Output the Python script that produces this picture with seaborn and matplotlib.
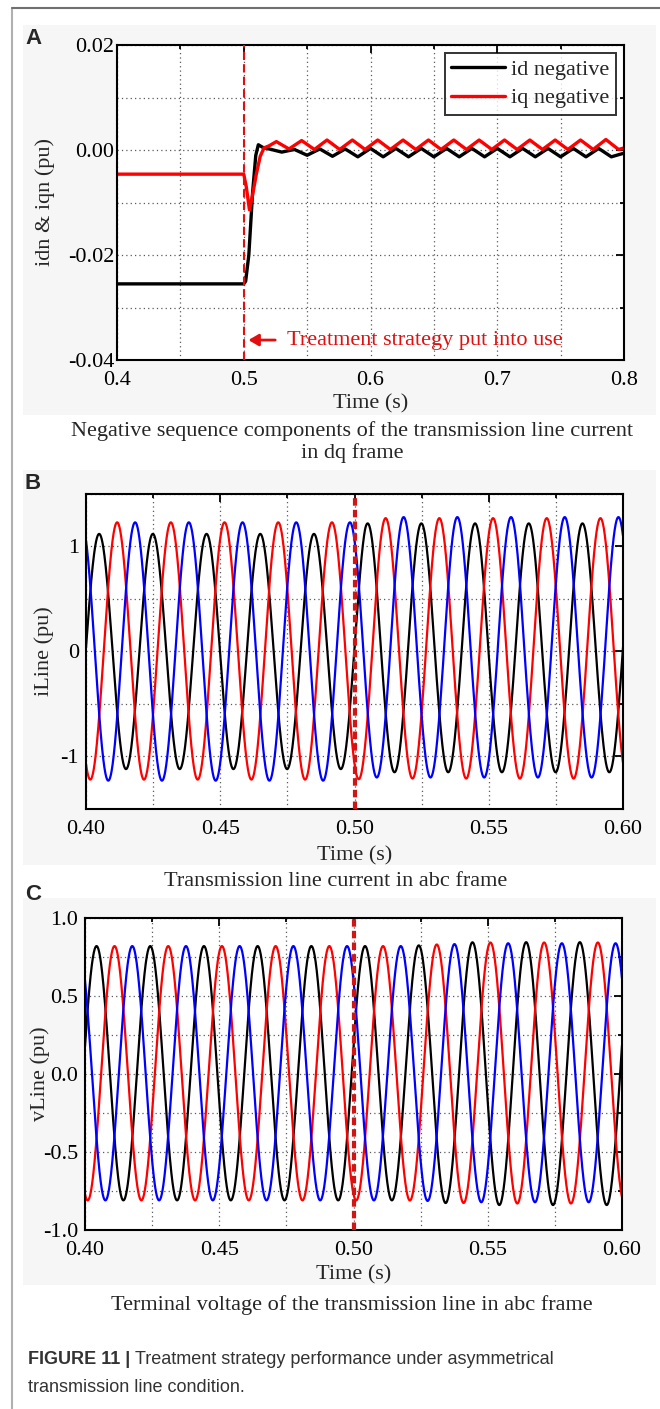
import numpy as np
import pandas as pd
import matplotlib
matplotlib.use("Agg")
import matplotlib.pyplot as plt
import seaborn as sns
from matplotlib.ticker import MultipleLocator, FormatStrFormatter
from matplotlib.patches import Rectangle
from matplotlib.lines import Line2D

# ---- panel A: negative sequence dq currents (key points)
id_t = [0.400, 0.5000, 0.5015, 0.5040, 0.5070, 0.5095, 0.5115, 0.5150, 0.5200, 0.5250,
        0.530, 0.540, 0.550, 0.560, 0.570, 0.580, 0.590, 0.600, 0.610, 0.620,
        0.630, 0.640, 0.650, 0.660, 0.670, 0.680, 0.690, 0.700, 0.710, 0.720,
        0.730, 0.740, 0.750, 0.760, 0.770, 0.780, 0.790, 0.800]
id_v = [-0.0255, -0.0255, -0.0250, -0.0200, -0.0080, -0.0010, 0.0010, 0.0005, 0.0002, -0.0001,
        -0.0004, 0.0001, -0.0010, 0.0002, -0.0012, 0.0002, -0.0013, 0.0003, -0.0013, 0.0003,
        -0.0013, 0.0003, -0.0013, 0.0003, -0.0013, 0.0003, -0.0013, 0.0003, -0.0013, 0.0003,
        -0.0013, 0.0003, -0.0013, 0.0003, -0.0013, 0.0003, -0.0013, -0.0006]
iq_t = [0.400, 0.5000, 0.5020, 0.5045, 0.5070, 0.5100, 0.5130, 0.5160, 0.5200,
        0.5257, 0.5357, 0.5457, 0.5557, 0.5657, 0.5757, 0.5857, 0.5957, 0.6057, 0.6157,
        0.6257, 0.6357, 0.6457, 0.6557, 0.6657, 0.6757, 0.6857, 0.6957, 0.7057, 0.7157,
        0.7257, 0.7357, 0.7457, 0.7557, 0.7657, 0.7757, 0.7857, 0.7957, 0.8000]
iq_v = [-0.0046, -0.0046, -0.0070, -0.0114, -0.0085, -0.0045, -0.0012, 0.0004, 0.0008,
        0.0016, 0.0002, 0.0018, 0.0001, 0.0019, 0.0001, 0.0019, 0.0001, 0.0019, 0.0001,
        0.0019, 0.0001, 0.0019, 0.0001, 0.0019, 0.0001, 0.0019, 0.0001, 0.0019, 0.0001,
        0.0019, 0.0001, 0.0019, 0.0001, 0.0019, 0.0001, 0.0020, 0.0001, 0.0004]

# ---- panels B and C: three-phase waveforms (50 Hz), peaks read per phase
phase_labels = ["a", "b", "c"]
phase_colors = ["#000000", "#ff0000", "#0000ff"]
freq_hz = 50.0
i_peak_t = [0.4049, 0.4116, 0.4183]
i_pos_pre = [1.12, 1.23, 1.23]
i_neg_pre = [1.12, 1.22, 1.23]
i_pos_post = [1.22, 1.27, 1.28]
i_neg_post = [1.15, 1.21, 1.20]
i_ramp = [0.500, 0.504]
v_peak_t = [0.4043, 0.4110, 0.4176]
v_pos_pre = [0.82, 0.82, 0.82]
v_neg_pre = [0.81, 0.81, 0.81]
v_pos_post = [0.845, 0.843, 0.838]
v_neg_post = [0.840, 0.830, 0.822]
v_ramp = [0.520, 0.545]


def wave(t, tp, p0, n0, p1, n1, ramp):
    c = np.cos(2 * np.pi * freq_hz * (t - tp))
    w = np.clip((t - ramp[0]) / (ramp[1] - ramp[0]), 0, 1)
    pos = p0 + (p1 - p0) * w
    neg = n0 + (n1 - n0) * w
    return np.where(c >= 0, pos * c, neg * c)


t = np.linspace(0.4, 0.6, 4001)
rows = []
for k, name in enumerate(phase_labels):
    rows.append(pd.DataFrame({"t": t, "phase": name,
                              "i": wave(t, i_peak_t[k], i_pos_pre[k], i_neg_pre[k],
                                        i_pos_post[k], i_neg_post[k], i_ramp),
                              "v": wave(t, v_peak_t[k], v_pos_pre[k], v_neg_pre[k],
                                        v_pos_post[k], v_neg_post[k], v_ramp)}))
abc = pd.concat(rows, ignore_index=True)
dq = pd.concat([pd.DataFrame({"t": id_t, "val": id_v, "series": "id negative"}),
                pd.DataFrame({"t": iq_t, "val": iq_v, "series": "iq negative"})],
               ignore_index=True)

sns.set_style("white")
plt.rcParams["font.family"] = ["Liberation Serif", "DejaVu Serif"]
plt.rcParams["axes.unicode_minus"] = False

W, H = 660, 1409
FS = 16
fig = plt.figure(figsize=(W / 100, H / 100), dpi=100)


def rect(l, t_, r, b):
    return [l / W, 1 - b / H, (r - l) / W, (b - t_) / H]


# grey panel backgrounds and page frame lines
for (l, t_, r, b) in [(23, 25, 656, 415), (23, 470, 656, 865), (23, 898, 656, 1285)]:
    fig.add_artist(Rectangle((l / W, 1 - b / H), (r - l) / W, (b - t_) / H,
                             transform=fig.transFigure, facecolor="#f6f6f6",
                             edgecolor="none", zorder=0))
fig.add_artist(Line2D([12 / W, 12 / W], [0, 1 - 8 / H], transform=fig.transFigure,
                      color="#b0b0b0", lw=1.5))
fig.add_artist(Line2D([12 / W, 1], [1 - 8 / H, 1 - 8 / H], transform=fig.transFigure,
                      color="#707070", lw=1.5))


def style_axes(ax, xmaj, xmin, ymaj, ymin, xfmt, yfmt, ypad):
    ax.set_facecolor("white")
    ax.xaxis.set_major_locator(MultipleLocator(xmaj))
    ax.xaxis.set_minor_locator(MultipleLocator(xmin))
    ax.yaxis.set_major_locator(MultipleLocator(ymaj))
    ax.yaxis.set_minor_locator(MultipleLocator(ymin))
    ax.xaxis.set_major_formatter(FormatStrFormatter(xfmt))
    ax.yaxis.set_major_formatter(FormatStrFormatter(yfmt))
    ax.grid(True, which="both", color="#5a5a5a", linestyle=(0, (1, 2.5)), linewidth=0.9)
    ax.tick_params(which="both", direction="in", top=True, right=True, width=1.3,
                   labelsize=FS, colors="black")
    ax.tick_params(which="major", length=6)
    ax.tick_params(which="minor", length=3)
    ax.tick_params(axis="x", pad=8)
    ax.tick_params(axis="y", pad=ypad)
    for s in ax.spines.values():
        s.set_visible(True)
        s.set_color("black")
        s.set_linewidth(1.5)


# ---- A
axA = fig.add_axes(rect(117, 45, 624, 360))
sns.lineplot(data=dq, x="t", y="val", hue="series", palette=["#000000", "#ff0000"],
             linewidth=2.4, estimator=None, sort=False, ax=axA)
axA.axvline(0.5, color="#e01010", lw=1.5, ls=(0, (4, 2)), zorder=3)
axA.set_xlim(0.4, 0.8)
axA.set_ylim(-0.04, 0.02)
style_axes(axA, 0.1, 0.05, 0.02, 0.01, "%.1f", "%.2f", 2)
axA.set_xlabel("Time (s)", fontsize=FS)
axA.set_ylabel("idn & iqn (pu)", fontsize=FS)
axA.xaxis.set_label_coords(0.5, -0.108)
axA.yaxis.set_label_coords(-0.122, 0.5)
leg = axA.legend(loc="upper right", fontsize=FS, frameon=True, fancybox=False,
                 edgecolor="black", handlelength=2.4, borderpad=0.3, labelspacing=0.35,
                 handletextpad=0.3, borderaxespad=0.35)
leg.get_frame().set_linewidth(1.4)
for h in leg.get_lines():
    h.set_linewidth(2.4)
axA.annotate("", xy=(0.5015, -0.0362), xytext=(0.527, -0.0362),
             arrowprops=dict(arrowstyle="-|>,head_length=0.6,head_width=0.35",
                             color="#e01010", lw=2))
axA.text(0.534, -0.0362, "Treatment strategy put into use", color="#e01010",
         fontsize=FS, va="center", ha="left")

# ---- B
axB = fig.add_axes(rect(86, 494, 623, 809))
sns.lineplot(data=abc, x="t", y="i", hue="phase", palette=phase_colors, linewidth=1.6,
             estimator=None, sort=False, legend=False, ax=axB)
axB.axvline(0.5, color="#d01515", lw=3, ls=(0, (1.8, 1)), zorder=3)
axB.set_xlim(0.4, 0.6)
axB.set_ylim(-1.5, 1.5)
style_axes(axB, 0.05, 0.025, 1.0, 0.5, "%.2f", "%.0f", 5)
axB.set_xlabel("Time (s)", fontsize=FS)
axB.set_ylabel("iLine (pu)", fontsize=FS)
axB.xaxis.set_label_coords(0.5, -0.118)
axB.yaxis.set_label_coords(-0.06, 0.5)

# ---- C
axC = fig.add_axes(rect(85, 918, 622, 1230))
sns.lineplot(data=abc, x="t", y="v", hue="phase", palette=phase_colors, linewidth=1.6,
             estimator=None, sort=False, legend=False, ax=axC)
axC.axvline(0.5, color="#d01515", lw=3, ls=(0, (1.8, 1)), zorder=3)
axC.set_xlim(0.4, 0.6)
axC.set_ylim(-1.0, 1.0)
style_axes(axC, 0.05, 0.025, 0.5, 0.25, "%.2f", "%.1f", 5)
axC.set_xlabel("Time (s)", fontsize=FS)
axC.set_ylabel("vLine (pu)", fontsize=FS)
axC.xaxis.set_label_coords(0.5, -0.113)
axC.yaxis.set_label_coords(-0.065, 0.5)

# ---- panel letters and captions
sans = ["Liberation Sans", "DejaVu Sans"]
for letter, y in [("A", 38), ("B", 483), ("C", 895)]:
    fig.text(25 / W, 1 - y / H, letter, family=sans, weight="bold", fontsize=16,
             va="center", ha="left")
fig.text(352 / W, 1 - 442 / H,
         "Negative sequence components of the transmission line current\nin dq frame",
         fontsize=FS, ha="center", va="center", linespacing=1.15)
fig.text(336 / W, 1 - 882 / H, "Transmission line current in abc frame",
         fontsize=FS, ha="center", va="center")
fig.text(352 / W, 1 - 1305 / H, "Terminal voltage of the transmission line in abc frame",
         fontsize=FS, ha="center", va="center")

t1 = fig.text(28 / W, 1 - 1360 / H, "FIGURE 11 | ", family=sans, weight="bold",
              fontsize=13, color="#333333", va="center", ha="left")
fig.canvas.draw()
bb = t1.get_window_extent()
fig.text(bb.x1 / W, 1 - 1360 / H, "Treatment strategy performance under asymmetrical",
         family=sans, fontsize=13, color="#333333", va="center", ha="left")
fig.text(28 / W, 1 - 1388 / H, "transmission line condition.", family=sans,
         fontsize=13, color="#333333", va="center", ha="left")

fig.savefig("out.png", dpi=100, facecolor="white")
